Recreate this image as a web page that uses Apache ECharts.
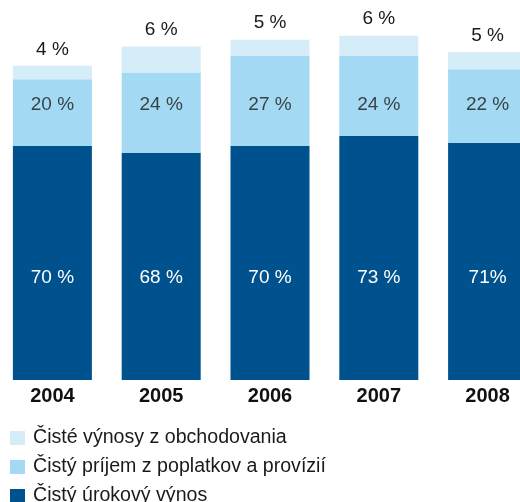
<!DOCTYPE html>
<html>
<head>
<meta charset="utf-8">
<script src="https://cdn.jsdelivr.net/npm/echarts@6/dist/echarts.min.js"></script>
<style>html,body{margin:0;padding:0;background:#fff}#c{width:520px;height:502px}</style>
</head>
<body>
<div id="c"></div>
<script>
const years = ['2004', '2005', '2006', '2007', '2008'];
const seriesNames = ['Čisté výnosy z obchodovania', 'Čistý príjem z poplatkov a provízií', 'Čistý úrokový výnos'];
const interestValues = [70, 68, 70, 73, 71];
const feeValues = [20, 24, 27, 24, 22];
const tradingValues = [4, 7.8, 4.8, 6, 5.1];
const interestLabels = ['70 %', '68 %', '70 %', '73 %', '71%'];
const feeLabels = ['20 %', '24 %', '27 %', '24 %', '22 %'];
const tradingLabels = ['4 %', '6 %', '5 %', '6 %', '5 %'];

const FONT = '"Liberation Sans", Arial, sans-serif';
const chart = echarts.init(document.getElementById('c'), null, {renderer: 'canvas'});
const feeLabelLevel = 82.3;

chart.setOption({
  animation: false,
  grid: {left: -2, width: 544, top: 12.3, height: 367.7, containLabel: false, outerBoundsMode: 'none'},
  xAxis: {
    type: 'category', data: years,
    axisLine: {show: false}, axisTick: {show: false},
    axisLabel: {fontFamily: FONT, fontWeight: 'bold', fontSize: 20, color: '#111', margin: 6}
  },
  yAxis: {type: 'value', min: 0, max: 110, show: false, splitLine: {show: false}},
  legend: {
    orient: 'vertical', left: 10, top: 428, height: 200, padding: 0,
    data: seriesNames,
    itemWidth: 15, itemHeight: 14, itemGap: 9,
    icon: 'rect',
    textStyle: {fontFamily: FONT, fontSize: 19.6, color: '#1a1a1a', padding: [0, 0, 0, 3]}
  },
  series: [
    {
      name: seriesNames[2], type: 'bar', stack: 'a', barWidth: 79,
      data: interestValues,
      itemStyle: {color: '#00528e'},
      label: {show: true, position: 'insideBottom', distance: 93, fontFamily: FONT, fontSize: 19, color: '#fff',
        formatter: p => interestLabels[p.dataIndex]}
    },
    {
      name: seriesNames[1], type: 'bar', stack: 'a', barWidth: 79,
      data: feeValues,
      itemStyle: {color: '#a3d9f2'}
    },
    {
      name: seriesNames[0], type: 'bar', stack: 'a', barWidth: 79,
      data: tradingValues,
      itemStyle: {color: '#d5ecf9'},
      label: {show: true, position: 'top', distance: 7, fontFamily: FONT, fontSize: 19, color: '#1a1a1a',
        formatter: p => tradingLabels[p.dataIndex]}
    },
    {
      name: 'feeLabels', type: 'scatter', symbolSize: 0, silent: true, z: 10,
      data: years.map(() => feeLabelLevel),
      label: {show: true, position: 'inside', fontFamily: FONT, fontSize: 19, color: '#1a1a1a',
        formatter: p => feeLabels[p.dataIndex]}
    }
  ]
});
</script>
</body>
</html>
